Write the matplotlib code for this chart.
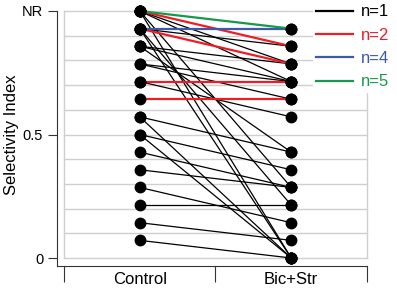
import matplotlib.pyplot as plt
from matplotlib.lines import Line2D

plt.rcParams['font.family'] = ['Liberation Sans', 'DejaVu Sans']

# selectivity index in steps of 1/14, the top step (14) is "NR"
conditions = ["Control", "Bic+Str"]
control_si = [14, 13, 14, 13, 10, 9,
              14, 14, 14, 14, 13, 13, 13, 12, 12, 12,
              11, 11, 10, 8, 8, 7, 7, 6, 5, 4, 3, 2, 1]
bicstr_si = [13, 13, 12, 11, 10, 9,
             11, 10, 4, 0, 12, 3, 0, 11, 10, 6,
             10, 9, 8, 6, 0, 5, 0, 4, 4, 2, 3, 1, 0]
n_cells = [5, 4, 2, 2, 2, 2,
           1, 1, 1, 1, 1, 1, 1, 1, 1, 1,
           1, 1, 1, 1, 1, 1, 1, 1, 1, 1, 1, 1, 1]

n_colors = {1: 'black', 2: '#ee1c25', 4: '#3c5aa8', 5: '#17994a'}
n_widths = {1: 0.9, 2: 1.6, 4: 1.6, 5: 1.6}
steps = 14.0

fig = plt.figure(figsize=(3.97, 2.91), dpi=100)
ax = fig.add_axes([0.1612, 0.1134, 0.7632, 0.8488])

# light grey grid box behind the data
for k in range(11):
    ax.plot([-0.5, 1.5], [k / 10, k / 10], color='#cfcfcf', lw=1.0, zorder=0, clip_on=False)
ax.plot([-0.5, -0.5], [0, 1], color='#cfcfcf', lw=1.0, zorder=0, clip_on=False)
ax.plot([1.5, 1.5], [0, 1], color='#cfcfcf', lw=1.0, zorder=0, clip_on=False)

# black lines first, coloured ones on top
order = sorted(range(len(n_cells)), key=lambda i: n_cells[i])
for i in order:
    n = n_cells[i]
    ax.plot([0, 1], [control_si[i] / steps, bicstr_si[i] / steps],
            color=n_colors[n], lw=n_widths[n], zorder=2 if n == 1 else 3, clip_on=False)

ax.plot([0] * len(control_si), [c / steps for c in control_si], 'o', color='black',
        ms=7.5, zorder=4, clip_on=False)
ax.plot([1] * len(bicstr_si), [b / steps for b in bicstr_si], 'o', color='black',
        ms=7.5, zorder=4, clip_on=False)

ax.set_xlim(-0.5, 1.5)
ax.set_ylim(0, 1)

for s in ['top', 'right']:
    ax.spines[s].set_visible(False)
ax.spines['left'].set_position(('outward', 5))
ax.spines['bottom'].set_position(('outward', 5.8))
ax.spines['left'].set_bounds(-0.033, 1)
ax.spines['bottom'].set_bounds(-0.546, 1.5)
ax.spines['left'].set_color('#333333')
ax.spines['bottom'].set_color('#333333')

ax.set_yticks([0, 0.5, 1], ['0', '0.5', 'NR'], fontsize=10.5)
ax.tick_params(axis='y', direction='out', length=6.5, width=0.8, colors='#333333', labelcolor='black')
ax.set_xticks([-0.5, 0.5, 1.5], ['', '', ''])
ax.tick_params(axis='x', direction='out', length=11.5, width=0.8, colors='#333333')
ax.set_xticks([0, 1], conditions, minor=True)
ax.tick_params(axis='x', which='minor', length=0, pad=4, labelsize=12)

ax.set_ylabel("Selectivity Index", fontsize=12, labelpad=2)

handles = [Line2D([0], [0], color=n_colors[n], lw=1.6, label="n={}".format(n)) for n in [1, 2, 4, 5]]
leg = ax.legend(handles=handles, loc='upper left', bbox_to_anchor=(0.822, 1.04), frameon=True,
                fontsize=12, handlelength=2.2, handletextpad=0.45, labelspacing=0.5,
                borderpad=0.2, borderaxespad=0)
leg.get_frame().set_facecolor('white')
leg.get_frame().set_edgecolor('none')
leg.get_frame().set_alpha(1)
for t, n in zip(leg.get_texts(), [1, 2, 4, 5]):
    t.set_color(n_colors[n])

fig.savefig("out.png", dpi=100)
